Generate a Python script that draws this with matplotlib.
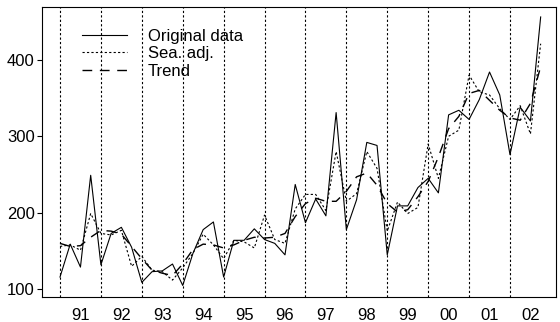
import numpy as np
import matplotlib
matplotlib.use("Agg")
import matplotlib.pyplot as plt

plt.rcParams['font.family'] = ['Liberation Sans', 'DejaVu Sans']
plt.rcParams['lines.scale_dashes'] = False

# quarterly series, 1991Q1 .. 2002Q4
start_year = 1991
original = [116, 159, 129, 249, 132, 173, 181, 155, 109, 123, 124, 133,
            105, 147, 178, 188, 116, 164, 164, 179, 165, 160, 145, 237,
            187, 218, 196, 331, 178, 217, 292, 288, 145, 209, 209, 233,
            245, 226, 328, 334, 322, 348, 384, 354, 276, 338, 320, 456]
sea_adj = [156, 158, 151, 199, 173, 171, 177, 130, 143, 125, 123, 112,
           128, 147, 172, 158, 140, 164, 162, 154, 197, 165, 160, 205,
           224, 224, 203, 280, 215, 225, 280, 258, 176, 214, 199, 207,
           290, 245, 300, 308, 380, 358, 354, 336, 322, 340, 303, 421]
trend = [160, 156, 157, 168, 177, 176, 172, 156, 140, 125, 121, 118,
         133, 152, 159, 158, 154, 158, 164, 168, 167, 168, 173, 195,
         212, 219, 215, 215, 228, 247, 252, 236, 212, 201, 204, 221,
         241, 273, 310, 326, 356, 360, 347, 334, 324, 321, 343, 391]
year_labels = ['91', '92', '93', '94', '95', '96', '97', '98', '99', '00', '01', '02']
y_ticks = [100, 200, 300, 400]

t = start_year + np.arange(len(original)) / 4.0
years = start_year + np.arange(len(year_labels))

fig = plt.figure(figsize=(5.6, 3.22), dpi=100)
ax = fig.add_axes([0.0745, 0.0786, 0.918, 0.9006])

for yr in years:
    ax.axvline(yr, color='black', lw=0.8, linestyle=(0, (1.6, 1.6)), zorder=1)

ax.plot(t, original, color='black', lw=0.8, label='Original data', zorder=3)
ax.plot(t, sea_adj, color='black', lw=0.8, linestyle=(0, (1.6, 1.6)),
        label='Sea. adj.', zorder=3)
ax.plot(t, trend, color='black', lw=1.0, linestyle=(0, (7, 5.5)),
        label='Trend', zorder=3)

ax.set_xlim(1990.553, 2003.12)
ax.set_ylim(90.3, 469.4)

ax.set_yticks(y_ticks)
ax.set_yticklabels([str(v) for v in y_ticks], fontsize=12)
ax.set_xticks(years + 0.5)
ax.set_xticklabels(year_labels, fontsize=12)
ax.tick_params(axis='x', length=0, pad=8)
ax.tick_params(axis='y', length=3.5, width=0.8, pad=1.5)

for sp in ax.spines.values():
    sp.set_linewidth(0.8)

ax.legend(loc='upper left', bbox_to_anchor=(0.078, 1 - 22 / 290), frameon=False,
          fontsize=12, handlelength=2.7, handletextpad=1.25,
          labelspacing=0.15, borderaxespad=0, borderpad=0)

fig.savefig('out.png', dpi=100)
